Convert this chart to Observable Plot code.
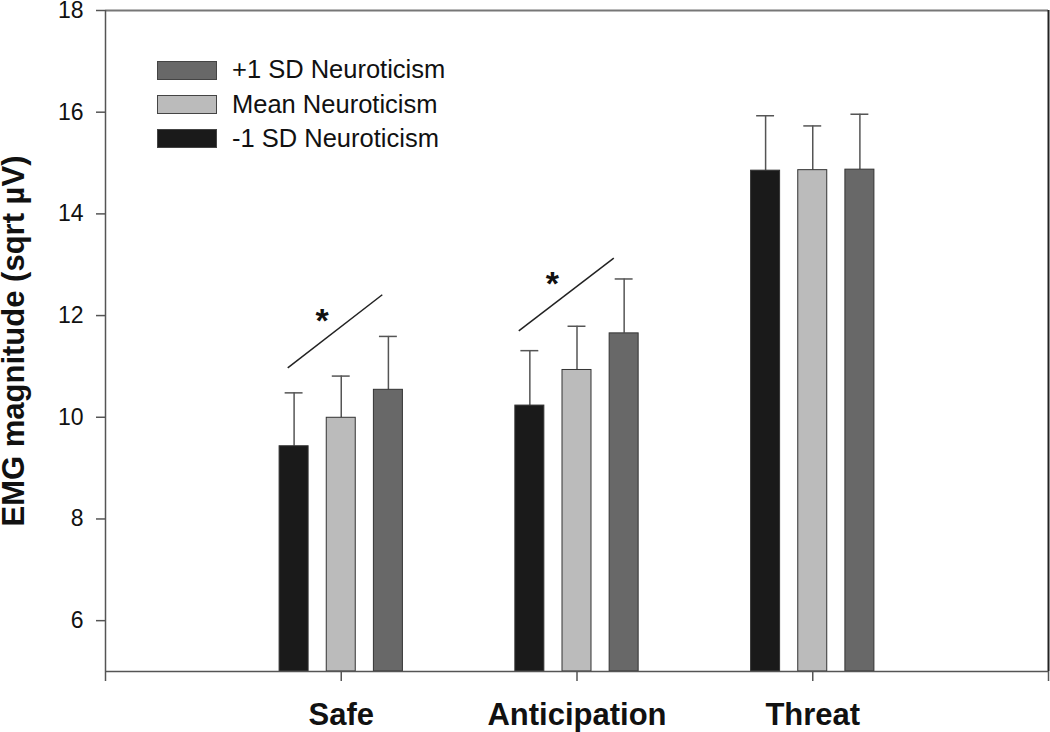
<!DOCTYPE html>
<html><head><meta charset="utf-8">
<script src="https://cdn.jsdelivr.net/npm/d3@7"></script>
<script src="https://cdn.jsdelivr.net/npm/@observablehq/plot@0.6"></script>
<style>
body{margin:0;background:#fff;font-family:"Liberation Sans",Arial,sans-serif;}
#wrap{position:relative;width:1050px;height:732px;}
#legend{position:absolute;left:157px;top:53px;}
.row{display:flex;align-items:center;height:34.2px;}
.sw{width:58px;height:17px;border:1px solid #444;margin-right:15px;box-sizing:content-box;}
.lab{font-size:25.5px;color:#111;line-height:1;}
</style></head><body><div id="wrap"><div id="chart"></div><div id="legend"></div></div>
<script>
const conditions = ["Safe", "Anticipation", "Threat"];
const groups = ["-1 SD Neuroticism", "Mean Neuroticism", "+1 SD Neuroticism"];
const groupColors = ["#1a1a1a", "#bbbbbb", "#686868"];
const lowN  = [9.43, 10.23, 14.85];
const meanN = [9.99, 10.93, 14.86];
const highN = [10.54, 11.65, 14.87];
const lowSE  = [1.05, 1.08, 1.08];
const meanSE = [0.82, 0.86, 0.87];
const highSE = [1.05, 1.07, 1.09];
const yTicks = [6, 8, 10, 12, 14, 16, 18];
const yLabel = "EMG magnitude (sqrt µV)";
const sigLines = [
  {x1: 0.773, y1: 10.97, x2: 1.174, y2: 12.41},
  {x1: 1.753, y1: 11.70, x2: 2.156, y2: 13.13}
];
const sigStars = [{x: 0.919, y: 12.06}, {x: 1.895, y: 12.79}];

const series = [lowN, meanN, highN];
const errs = [lowSE, meanSE, highSE];
const groupStep = 0.2, barHalf = 0.0615, capHalf = 0.038;
const rows = [];
conditions.forEach((c, i) => groups.forEach((g, j) => {
  rows.push({cond: c, group: g, pos: i + 1 + (j - 1) * groupStep, value: series[j][i], se: errs[j][i]});
}));

const font = '"Liberation Sans", Arial, sans-serif';
const chart = Plot.plot({
  width: 1050, height: 732,
  marginLeft: 105, marginRight: 2, marginTop: 10, marginBottom: 61,
  x: {domain: [0, 4]},
  y: {domain: [5, 18]},
  color: {domain: groups, range: groupColors},
  style: {fontFamily: font, background: "white", color: "#111", overflow: "visible"},
  marks: [
    Plot.ruleY([18], {stroke: "#777", strokeWidth: 2}),
    Plot.ruleX([4], {stroke: "#222", strokeWidth: 2}),
    Plot.ruleX(rows, {x: "pos", y1: "value", y2: d => d.value + d.se, stroke: "#555", strokeWidth: 1.5}),
    Plot.ruleY(rows, {y: d => d.value + d.se, x1: d => d.pos - capHalf, x2: d => d.pos + capHalf, stroke: "#555", strokeWidth: 1.5}),
    Plot.rectY(rows, {x1: d => d.pos - barHalf, x2: d => d.pos + barHalf, y1: 5, y2: "value", fill: "group", stroke: "#333", strokeWidth: 1}),
    Plot.link(sigLines, {x1: "x1", y1: "y1", x2: "x2", y2: "y2", stroke: "#222", strokeWidth: 1.5}),
    Plot.text(sigStars, {x: "x", y: "y", text: () => "*", fontSize: 34, fontWeight: "bold", dy: 9, fill: "#111"}),
    Plot.ruleX([0], {stroke: "#555", strokeWidth: 1.5}),
    Plot.ruleY([5], {stroke: "#555", strokeWidth: 1.5}),
    Plot.axisY({ticks: yTicks, tickSize: 9, tickPadding: 13, fontSize: 23, label: null, stroke: "#555", strokeWidth: 1.5}),
    Plot.axisX({ticks: [0, 1, 2, 3, 4], tickFormat: d => conditions[d - 1] ?? "", tickSize: 10, tickPadding: 21, fontSize: 31, fontWeight: "bold", label: null, stroke: "#555", strokeWidth: 1.5}),
    Plot.text([yLabel], {frameAnchor: "left", textAnchor: "middle", rotate: -90, dx: -91, dy: 0, fontSize: 31, fontWeight: "bold", fill: "#111"})
  ]
});
document.getElementById("chart").appendChild(chart);

const legend = document.getElementById("legend");
[2, 1, 0].forEach(j => {
  const row = document.createElement("div");
  row.className = "row";
  const sw = document.createElement("div");
  sw.className = "sw";
  sw.style.background = groupColors[j];
  const lab = document.createElement("span");
  lab.className = "lab";
  lab.textContent = groups[j];
  row.appendChild(sw); row.appendChild(lab);
  legend.appendChild(row);
});
</script></body></html>
